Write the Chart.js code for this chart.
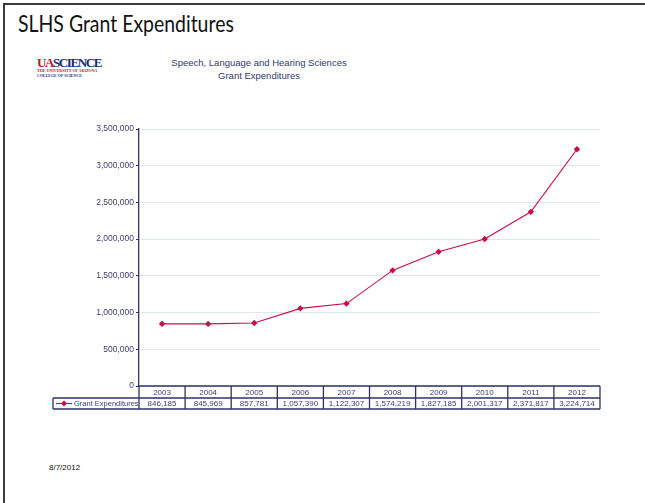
<!DOCTYPE html>
<html>
<head>
<meta charset="utf-8">
<script src="https://cdn.jsdelivr.net/npm/chart.js@4"></script>
<style>
  html, body { margin: 0; padding: 0; background: #fff; }
  body { width: 645px; height: 503px; position: relative; overflow: hidden; }
  .frame { position: absolute; left: 3px; top: 3px; width: 642px; height: 500px;
           border-left: 2px solid #3a3a3a; border-top: 2px solid #3a3a3a; }
  .title { position: absolute; left: 18px; top: 8px; font: 24px Lato, "Open Sans", sans-serif; color: #111;
           transform: scaleX(0.81); transform-origin: left top; white-space: nowrap; }
  .logo { position: absolute; left: 37px; top: 57px; font-family: "Liberation Serif", serif; }
  .logo .big { font-size: 13px; font-weight: bold; letter-spacing: -1.4px; line-height: 12px; }
  .logo .ua { color: #c8102e; }
  .logo .sci { color: #1a2a80; }
  .logo .small { font-size: 4px; font-weight: bold; line-height: 4.5px; }
  .sub { position: absolute; left: 109px; width: 300px; top: 57px; text-align: center;
         font: 9.5px "Liberation Sans", Arial, sans-serif; color: #2f3a6e; line-height: 12.5px; }
  .date { position: absolute; left: 49px; top: 463px; font: 8px "Liberation Sans", Arial, sans-serif; color: #111; }
  canvas { position: absolute; left: 0; top: 0; }
</style>
</head>
<body>
<div class="frame"></div>
<div class="title">SLHS Grant Expenditures</div>
<div class="logo">
  <div class="big"><span class="ua">UA</span><span class="sci">SCIENCE</span></div>
  <div class="small" style="color:#c8102e">THE UNIVERSITY OF ARIZONA</div>
  <div class="small" style="color:#1a2a80">COLLEGE OF SCIENCE</div>
</div>
<div class="sub">Speech, Language and Hearing Sciences<br>Grant Expenditures</div>
<div class="date">8/7/2012</div>
<canvas id="lineChart" width="645" height="503"></canvas>
<script>
const years = ['2003', '2004', '2005', '2006', '2007', '2008', '2009', '2010', '2011', '2012'];
const expenditures = [846185, 845969, 857781, 1057390, 1122307, 1574219, 1827185, 2001317, 2371817, 3224714];
const seriesName = 'Grant Expenditures';

const navy = '#2b3566';
const lineColor = '#cc0a48';

// draws the data table under the plot, using the x scale positions
const dataTable = {
  id: 'dataTable',
  afterDraw(chart) {
    const ctx = chart.ctx;
    const x = chart.scales.x;
    const area = chart.chartArea;
    const colW = (area.right - area.left) / years.length;
    const top = area.bottom;
    const mid = top + 12;
    const bot = mid + 11;
    const legendLeft = 53;

    ctx.save();
    ctx.strokeStyle = navy;
    ctx.lineWidth = 1.3;
    ctx.beginPath();
    ctx.moveTo(area.left, top); ctx.lineTo(area.right, top);
    ctx.moveTo(legendLeft, mid); ctx.lineTo(area.right, mid);
    ctx.moveTo(legendLeft, bot); ctx.lineTo(area.right, bot);
    ctx.moveTo(legendLeft, mid); ctx.lineTo(legendLeft, bot);
    for (let i = 0; i <= years.length; i++) {
      const px = area.left + i * colW;
      ctx.moveTo(px, top); ctx.lineTo(px, bot);
    }
    ctx.stroke();

    ctx.font = '8px "Liberation Sans", Arial, sans-serif';
    ctx.fillStyle = '#3b3f6e';
    ctx.textAlign = 'center';
    ctx.textBaseline = 'middle';
    years.forEach((y, i) => {
      const cx = x.getPixelForValue(i);
      ctx.fillText(y, cx, (top + mid) / 2 + 1);
      ctx.fillText(expenditures[i].toLocaleString('en-US'), cx, (mid + bot) / 2 + 0.5);
    });

    // legend key
    const ky = (mid + bot) / 2;
    ctx.strokeStyle = lineColor;
    ctx.lineWidth = 1.2;
    ctx.beginPath();
    ctx.moveTo(56, ky); ctx.lineTo(72, ky);
    ctx.stroke();
    ctx.fillStyle = lineColor;
    ctx.beginPath();
    ctx.moveTo(64, ky - 3); ctx.lineTo(67, ky); ctx.lineTo(64, ky + 3); ctx.lineTo(61, ky);
    ctx.closePath();
    ctx.fill();
    ctx.fillStyle = '#3b3f6e';
    ctx.textAlign = 'left';
    ctx.font = '7.5px "Liberation Sans", Arial, sans-serif';
    ctx.fillText(seriesName, 74, ky + 0.5);
    ctx.restore();
  }
};

new Chart(document.getElementById('lineChart').getContext('2d'), {
  type: 'line',
  data: {
    labels: years,
    datasets: [{
      label: seriesName,
      data: expenditures,
      borderColor: lineColor,
      backgroundColor: lineColor,
      borderWidth: 1.1,
      pointStyle: 'rectRot',
      pointRadius: 3.2,
      pointBorderWidth: 0,
      tension: 0,
      fill: false
    }]
  },
  options: {
    responsive: false,
    animation: false,
    layout: { padding: { left: 60, right: 45, top: 129, bottom: 117 } },
    plugins: {
      legend: { display: false },
      tooltip: { enabled: false }
    },
    scales: {
      x: { type: 'category', offset: true, display: false },
      y: {
        min: 0,
        max: 3500000,
        afterFit: (scale) => { scale.width = 79; },
        border: { color: navy, width: 1.3 },
        grid: { color: '#dfe5ee', lineWidth: 1, tickLength: 3, tickColor: navy, drawTicks: true },
        ticks: {
          stepSize: 500000,
          padding: 2,
          color: '#3b3f6e',
          font: { family: '"Liberation Sans", Arial, sans-serif', size: 8.5 },
          callback: (v) => v.toLocaleString('en-US')
        }
      }
    }
  },
  plugins: [dataTable]
});
</script>
</body>
</html>
